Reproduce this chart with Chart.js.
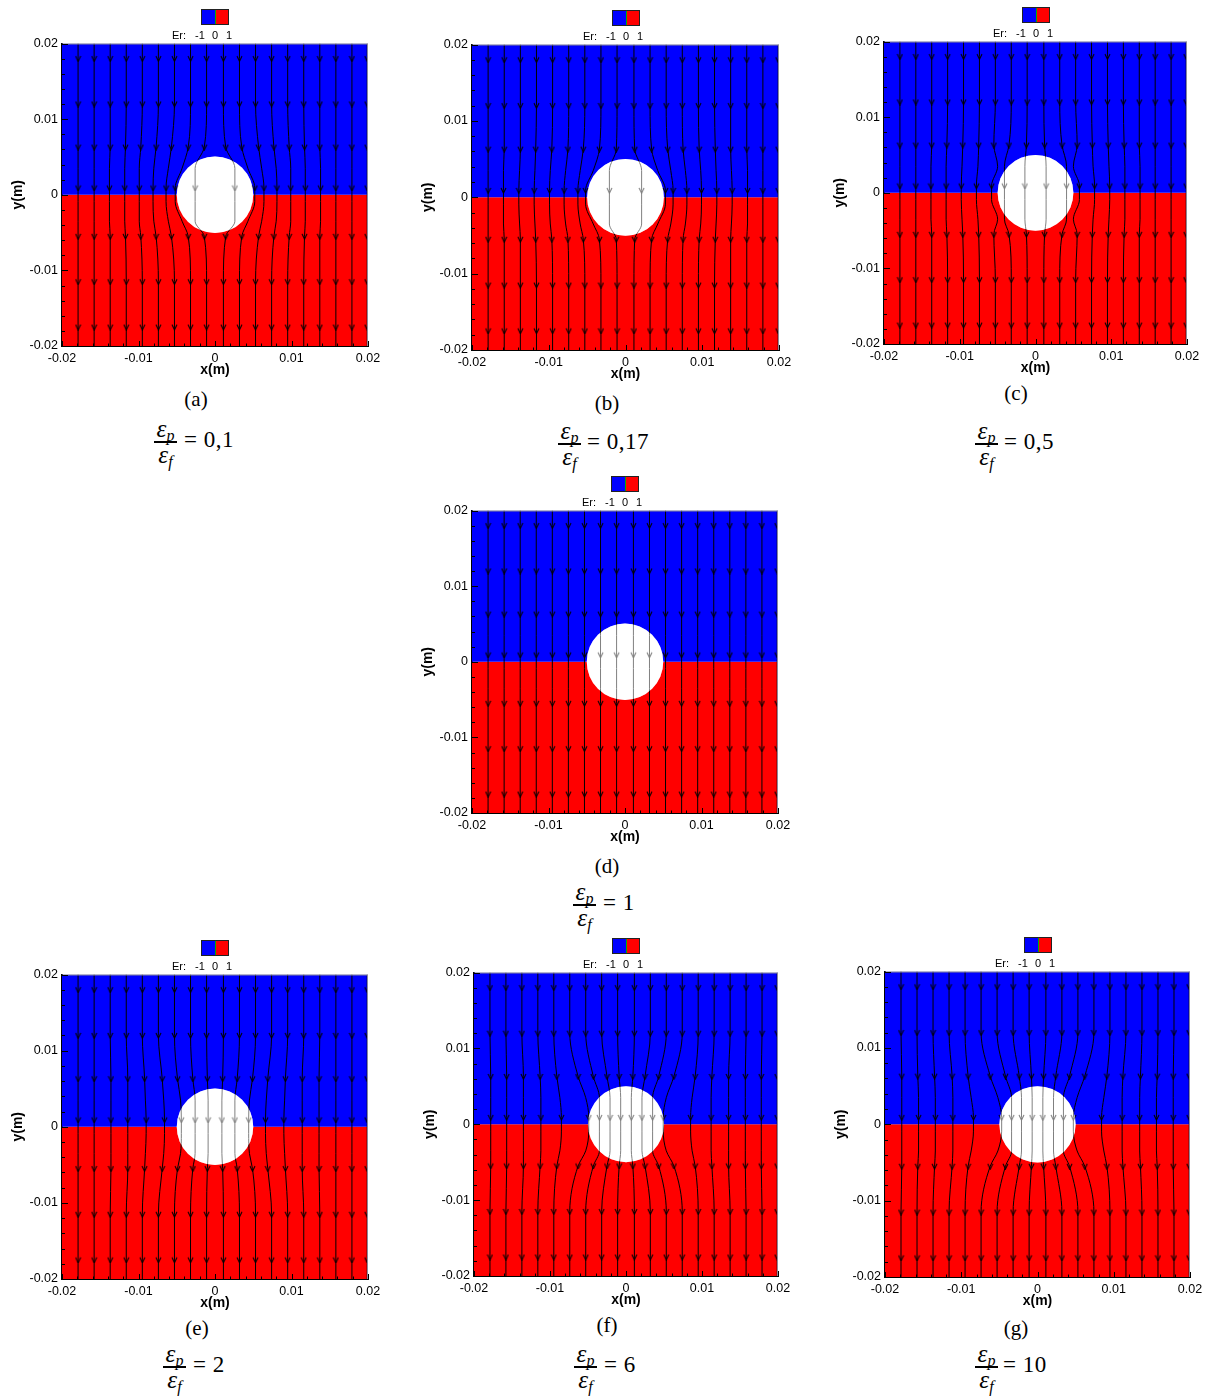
<!DOCTYPE html>
<html>
<head>
<meta charset="utf-8">
<script src="https://cdn.jsdelivr.net/npm/chart.js@4.4.1/dist/chart.umd.min.js"></script>
<style>
body { margin: 0; background: #fff; width: 1209px; height: 1396px; position: relative; overflow: hidden; }
canvas.panel { position: absolute; }
.lg { position: absolute; width: 28px; height: 16px; border: 1px solid #222; display: flex; box-sizing: border-box; }
.lg .b { flex: 1; background: #0000ff; }
.lg .g { width: 1px; background: #00b000; }
.lg .r { flex: 1; background: #ff0000; }
.lgt { position: absolute; font: 11px "Liberation Sans", Arial, sans-serif; color: #000; line-height: 12px; white-space: pre; }
.cap { position: absolute; font: 21px "Liberation Serif", "DejaVu Serif", serif; color: #000; transform: translateX(-50%); line-height: 24px; }
.fr { position: absolute; font: italic 25px "Liberation Serif", "DejaVu Serif", serif; color: #000; text-align: center; }
.fr .num, .fr .den { height: 24px; line-height: 24px; white-space: nowrap; }
.fr .bar { height: 1.5px; background: #000; }
.fr sub { font-size: 16px; vertical-align: -4px; line-height: 0; }
.eq { position: absolute; font: 23px "Liberation Serif", "DejaVu Serif", serif; color: #000; line-height: 26px; white-space: pre; letter-spacing: 0.5px; }
</style>
</head>
<body>
<script>
// ---- data ----
const TICK_VALUES = [-0.02, -0.01, 0, 0.01, 0.02];
const TICK_LABELS = ['-0.02', '-0.01', '0', '0.01', '0.02'];
const MINOR_STEP = 0.002;
const R_PARTICLE = 0.005;
const INTERFACE_X = [-0.02, 0.02];
const INTERFACE_Y = 0;

// streamline seeds (right half, mirrored to the left)
const X_FAR = [0.0011, 0.0032, 0.0053, 0.0074, 0.0095, 0.0116, 0.0137, 0.0158, 0.0179, 0.0199];
// y levels the streamlines are sampled at, and which x row applies there
const Y_LEVELS = [0.02, 0.018, 0.012, 0.0063, 0.0035, 0.0009, -0.0009, -0.0035, -0.0055, -0.0115, -0.0175, -0.02];
const LEVEL_KIND = ['F', 'F', 'F', 'N', 'U', 'M', 'M', 'U', 'N', 'F', 'F', 'F'];
const ARROW_MASK = [0, 1, 1, 1, 0, 1, 0, 0, 1, 1, 1, 0];

// x of each streamline at |y|=0.0063 (N), |y|=0.0035 (U), y=0 (M)
const NEAR_A = [0.0014, 0.0035, 0.0057, 0.0077, 0.0097, 0.0117, 0.0137, 0.0158, 0.0179, 0.0199];
const UP_A   = [0.0026, 0.0043, 0.0061, 0.0080, 0.0099, 0.0118, 0.0138, 0.0158, 0.0179, 0.0199];
const MID_A  = [0.0026, 0.0052, 0.0064, 0.0081, 0.0099, 0.0118, 0.0138, 0.0158, 0.0179, 0.0199];

const NEAR_B = [0.0012, 0.0034, 0.0055, 0.0075, 0.0096, 0.0117, 0.0137, 0.0158, 0.0179, 0.0199];
const UP_B   = [0.0021, 0.0042, 0.0059, 0.0078, 0.0098, 0.0118, 0.0138, 0.0159, 0.0179, 0.0199];
const MID_B  = [0.0021, 0.0052, 0.0062, 0.0080, 0.0099, 0.0119, 0.0139, 0.0159, 0.0179, 0.0199];

const NEAR_C = [0.0012, 0.0035, 0.0055, 0.0075, 0.0096, 0.0117, 0.0137, 0.0158, 0.0179, 0.0199];
const UP_C   = [0.0014, 0.0041, 0.0050, 0.0076, 0.0097, 0.0118, 0.0138, 0.0158, 0.0179, 0.0199];
const MID_C  = [0.0014, 0.0041, 0.0058, 0.0078, 0.0098, 0.0118, 0.0138, 0.0158, 0.0179, 0.0199];

const NEAR_D = [0.0011, 0.0032, 0.0053, 0.0074, 0.0095, 0.0116, 0.0137, 0.0158, 0.0179, 0.0199];
const UP_D   = [0.0011, 0.0032, 0.0053, 0.0074, 0.0095, 0.0116, 0.0137, 0.0158, 0.0179, 0.0199];
const MID_D  = [0.0011, 0.0032, 0.0053, 0.0074, 0.0095, 0.0116, 0.0137, 0.0158, 0.0179, 0.0199];

const NEAR_E = [0.0010, 0.0029, 0.0049, 0.0069, 0.0092, 0.0114, 0.0136, 0.0158, 0.0179, 0.0199];
const UP_E   = [0.0009, 0.0026, 0.0045, 0.0067, 0.0091, 0.0114, 0.0136, 0.0158, 0.0179, 0.0199];
const MID_E  = [0.0009, 0.0026, 0.0044, 0.0066, 0.0090, 0.0114, 0.0136, 0.0158, 0.0179, 0.0199];

const NEAR_F = [0.0009, 0.0025, 0.0043, 0.0063, 0.0091, 0.0113, 0.0135, 0.0157, 0.0178, 0.0199];
const UP_F   = [0.0007, 0.0021, 0.0035, 0.0053, 0.0087, 0.0112, 0.0135, 0.0157, 0.0178, 0.0199];
const MID_F  = [0.0007, 0.0021, 0.0035, 0.0049, 0.0085, 0.0112, 0.0135, 0.0157, 0.0178, 0.0199];

const NEAR_G = [0.0008, 0.0024, 0.0042, 0.0062, 0.0091, 0.0112, 0.0135, 0.0157, 0.0178, 0.0199];
const UP_G   = [0.0007, 0.0021, 0.0034, 0.0052, 0.0087, 0.0111, 0.0134, 0.0156, 0.0178, 0.0199];
const MID_G  = [0.0007, 0.0021, 0.0034, 0.0047, 0.0084, 0.0111, 0.0134, 0.0156, 0.0178, 0.0199];

const LETTERS = ['a', 'b', 'c', 'd', 'e', 'f', 'g'];
const RATIOS = ['0,1', '0,17', '0,5', '1', '2', '6', '10'];

// ---- layout ----
const FONT = '"Liberation Sans", Arial, sans-serif';
const YW = 56, XH = 34, PT = 10, PR = 20;
const AREAS = {
    a: [62, 42, 368, 346], b: [472, 43, 779, 350], c: [884, 40, 1187, 344],
    d: [472, 509, 778, 813],
    e: [62, 973, 368, 1279], f: [474, 971, 778, 1276], g: [885, 970, 1190, 1277],
};
const CAPTIONS = { a: [196, 399], b: [607, 403], c: [1016, 393], d: [607, 866], e: [197, 1328], f: [607, 1325], g: [1016, 1328] };
// [bar left, bar right, bar y, equation left]
const FRACS = {
    a: [154, 177, 441, 184], b: [558, 581, 443, 587], c: [975, 998, 443, 1004], d: [573, 596, 904, 603],
    e: [163, 186, 1366, 193], f: [574, 597, 1366, 604], g: [975, 998, 1366, 1003],
};

const SETS = {
    a: [NEAR_A, UP_A, MID_A], b: [NEAR_B, UP_B, MID_B], c: [NEAR_C, UP_C, MID_C], d: [NEAR_D, UP_D, MID_D],
    e: [NEAR_E, UP_E, MID_E], f: [NEAR_F, UP_F, MID_F], g: [NEAR_G, UP_G, MID_G],
};

// small open arrowhead used as point style
const arrowImg = document.createElement('canvas');
arrowImg.width = 7; arrowImg.height = 7;
(() => {
    const c = arrowImg.getContext('2d');
    c.strokeStyle = '#000'; c.lineWidth = 1.1;
    c.beginPath(); c.moveTo(1, 1); c.lineTo(3.5, 6.2); c.lineTo(6, 1); c.stroke();
})();

// inward Tecplot-style ticks + thin top/right frame
const innerTicks = {
    id: 'innerTicks',
    afterDraw(chart) {
        const { ctx, chartArea: a, scales: { x, y } } = chart;
        ctx.save();
        ctx.strokeStyle = '#8a8a9a'; ctx.lineWidth = 1;
        ctx.beginPath();
        ctx.moveTo(a.left, a.top + 0.5); ctx.lineTo(a.right - 0.5, a.top + 0.5); ctx.lineTo(a.right - 0.5, a.bottom);
        ctx.stroke();
        ctx.strokeStyle = '#000';
        ctx.beginPath();
        for (let k = -10; k <= 10; k++) {
            const v = k * MINOR_STEP;
            const major = k % 5 === 0;
            const py = Math.round(y.getPixelForValue(v)) + 0.5;
            ctx.moveTo(a.left, py); ctx.lineTo(a.left + (major ? 6 : 3), py);
            const px = Math.round(x.getPixelForValue(v)) + 0.5;
            ctx.moveTo(px, a.bottom); ctx.lineTo(px, a.bottom - (major ? 5 : 2.5));
        }
        ctx.stroke();
        ctx.restore();
    }
};

function axis(pos, title) {
    const horizontal = pos === 'bottom';
    return {
        type: 'linear', position: pos, min: -0.02, max: 0.02,
        afterBuildTicks: s => { s.ticks = TICK_VALUES.map(v => ({ value: v })); },
        afterFit: s => { if (horizontal) s.height = XH; else s.width = YW; },
        grid: { display: false, drawTicks: false },
        border: { display: true, color: '#000', width: 2 },
        ticks: {
            autoSkip: false, maxRotation: 0, padding: horizontal ? 5 : 4, color: '#000',
            font: { family: FONT, size: 12.5 },
            callback: (v, i) => TICK_LABELS[i],
        },
        title: {
            display: true, text: title, color: '#000',
            font: { family: FONT, size: 14, weight: 'bold' },
            padding: horizontal ? { top: 0, bottom: 1 } : { top: 4, bottom: 0 },
        },
    };
}

function buildPanel(key, idx) {
    const [l, t, r, b] = AREAS[key];
    const cv = document.createElement('canvas');
    cv.className = 'panel';
    cv.width = (r - l) + YW + PR;
    cv.height = (b - t) + PT + XH;
    cv.style.left = (l - YW) + 'px';
    cv.style.top = (t - PT) + 'px';
    document.body.appendChild(cv);

    const [near, up, mid] = SETS[key];
    const datasets = [];

    // blue (upper) and red (lower) halves
    datasets.push({
        data: INTERFACE_X.map(x => ({ x, y: INTERFACE_Y })),
        fill: 'end', backgroundColor: '#0000ff', borderWidth: 0, pointRadius: 0, order: 100,
    });
    datasets.push({
        data: INTERFACE_X.map(x => ({ x, y: INTERFACE_Y })),
        fill: 'start', backgroundColor: '#ff0000', borderWidth: 0, pointRadius: 0, order: 100,
    });

    const particleRadius = ctx => {
        const s = ctx.chart.scales.x;
        return s.getPixelForValue(R_PARTICLE) - s.getPixelForValue(0);
    };
    // particle
    datasets.push({
        data: [{ x: 0, y: 0 }], showLine: false, pointStyle: 'circle',
        pointRadius: particleRadius, pointBackgroundColor: '#ffffff', pointBorderWidth: 0, order: 50,
    });

    // streamlines (interpolated monotonically along y)
    X_FAR.forEach((xf, i) => {
        [1, -1].forEach(sign => {
            if (sign < 0 && i === X_FAR.length - 1) return;
            const pick = { F: xf, N: near[i], U: up[i], M: mid[i] };
            datasets.push({
                indexAxis: 'y',
                data: Y_LEVELS.map((y, k) => ({ x: sign * pick[LEVEL_KIND[k]], y })),
                borderColor: '#000', borderWidth: 1, cubicInterpolationMode: 'monotone', fill: false,
                pointStyle: arrowImg, pointRadius: c => ARROW_MASK[c.dataIndex] ? 3 : 0,
                order: 10,
            });
        });
    });

    // lines inside the particle look grey
    datasets.push({
        data: [{ x: 0, y: 0 }], showLine: false, pointStyle: 'circle',
        pointRadius: particleRadius, pointBackgroundColor: 'rgba(255,255,255,0.5)', pointBorderWidth: 0, order: 5,
    });

    new Chart(cv, {
        type: 'line',
        data: { datasets },
        options: {
            responsive: false, animation: false, events: [],
            layout: { padding: { top: PT, right: PR, left: 0, bottom: 0 } },
            plugins: { legend: { display: false }, tooltip: { enabled: false } },
            scales: { x: axis('bottom', 'x(m)'), y: axis('left', 'y(m)') },
        },
        plugins: [innerTicks],
    });

    // Er colour legend
    const bl = Math.round((l + r) / 2 - 14);
    const lg = document.createElement('div');
    lg.className = 'lg';
    lg.style.left = bl + 'px';
    lg.style.top = (t - 33) + 'px';
    lg.innerHTML = '<div class="b"></div><div class="g"></div><div class="r"></div>';
    document.body.appendChild(lg);
    [['Er:', -29], ['-1', -6], ['0', 11], ['1', 25]].forEach(([txt, dx]) => {
        const s = document.createElement('div');
        s.className = 'lgt';
        s.textContent = txt;
        s.style.left = (bl + dx) + 'px';
        s.style.top = (t - 13) + 'px';
        document.body.appendChild(s);
    });

    // caption and ratio
    const [cx, cy] = CAPTIONS[key];
    const cap = document.createElement('div');
    cap.className = 'cap';
    cap.textContent = '(' + LETTERS[idx] + ')';
    cap.style.left = cx + 'px';
    cap.style.top = (cy - 12) + 'px';
    document.body.appendChild(cap);

    const [fl, fr, fy, ex] = FRACS[key];
    const fd = document.createElement('div');
    fd.className = 'fr';
    fd.style.left = fl + 'px';
    fd.style.width = (fr - fl) + 'px';
    fd.style.top = (fy - 24) + 'px';
    fd.innerHTML = '<div class="num">ε<sub>p</sub></div><div class="bar"></div><div class="den">ε<sub>f</sub></div>';
    document.body.appendChild(fd);

    const eq = document.createElement('div');
    eq.className = 'eq';
    eq.textContent = '= ' + RATIOS[idx];
    eq.style.left = ex + 'px';
    eq.style.top = (fy - 14) + 'px';
    document.body.appendChild(eq);
}

LETTERS.forEach(buildPanel);
</script>
</body>
</html>
